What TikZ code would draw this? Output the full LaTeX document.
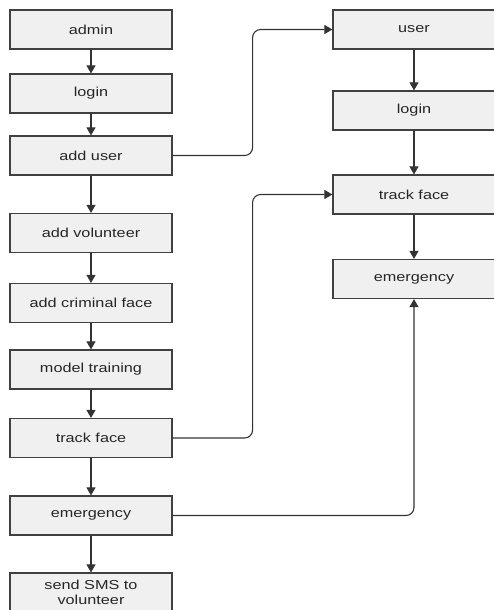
\documentclass[tikz,border=0pt]{standalone}
\usepackage{fontspec}
\setmainfont{Liberation Sans}[FakeStretch=1.25]
\usepackage{tikz}
\usetikzlibrary{positioning,arrows.meta}

\tikzset{
  stepbox/.style={draw=black!75,fill=gray!12,line width=1.2pt,minimum width=162pt,
    minimum height=39pt,inner sep=0pt,align=center,text=black!85},
  link/.style={->,draw=black!80,line width=1.1pt,rounded corners=8pt}
}

\begin{document}
\begin{tikzpicture}[x=1pt,y=-1pt,font=\fontsize{13}{15.5}\selectfont,
  >={Triangle[length=8pt,width=9pt]}]
  \useasboundingbox (0,0) rectangle (493,610);
  \node[stepbox] (admin)    at (91,29.5)  {admin};
  \node[stepbox] (login)    at (91,93.5)  {login};
  \node[stepbox] (adduser)  at (91,155.5) {add user};
  \node[stepbox] (addvol)   at (91,233)   {add volunteer};
  \node[stepbox] (addcrim)  at (91,303)   {add criminal face};
  \node[stepbox] (training) at (91,369.5) {model training};
  \node[stepbox] (track)    at (91,438)   {track face};
  \node[stepbox] (emerg)    at (91,515.5) {emergency};
  \node[stepbox] (sms)      at (91,592.5) {send SMS to\\volunteer};
  \node[stepbox] (user)      at (414,29.5)  {user};
  \node[stepbox] (ulogin)    at (414,110.5) {login};
  \node[stepbox] (utrack)    at (414,194.5) {track face};
  \node[stepbox] (uemerg)    at (414,279)   {emergency};
  \foreach \a/\b in {admin/login,login/adduser,adduser/addvol,addvol/addcrim,
    addcrim/training,training/track,track/emerg,emerg/sms,
    user/ulogin,ulogin/utrack,utrack/uemerg}
    \draw[link] (\a) -- (\b);
  \draw[link] (adduser.east) -- ++(80,0) |- (user.west);
  \draw[link] (track.east) -- ++(80,0) |- (utrack.west);
  \draw[link] (emerg.east) -| (uemerg.south);
\end{tikzpicture}
\end{document}
